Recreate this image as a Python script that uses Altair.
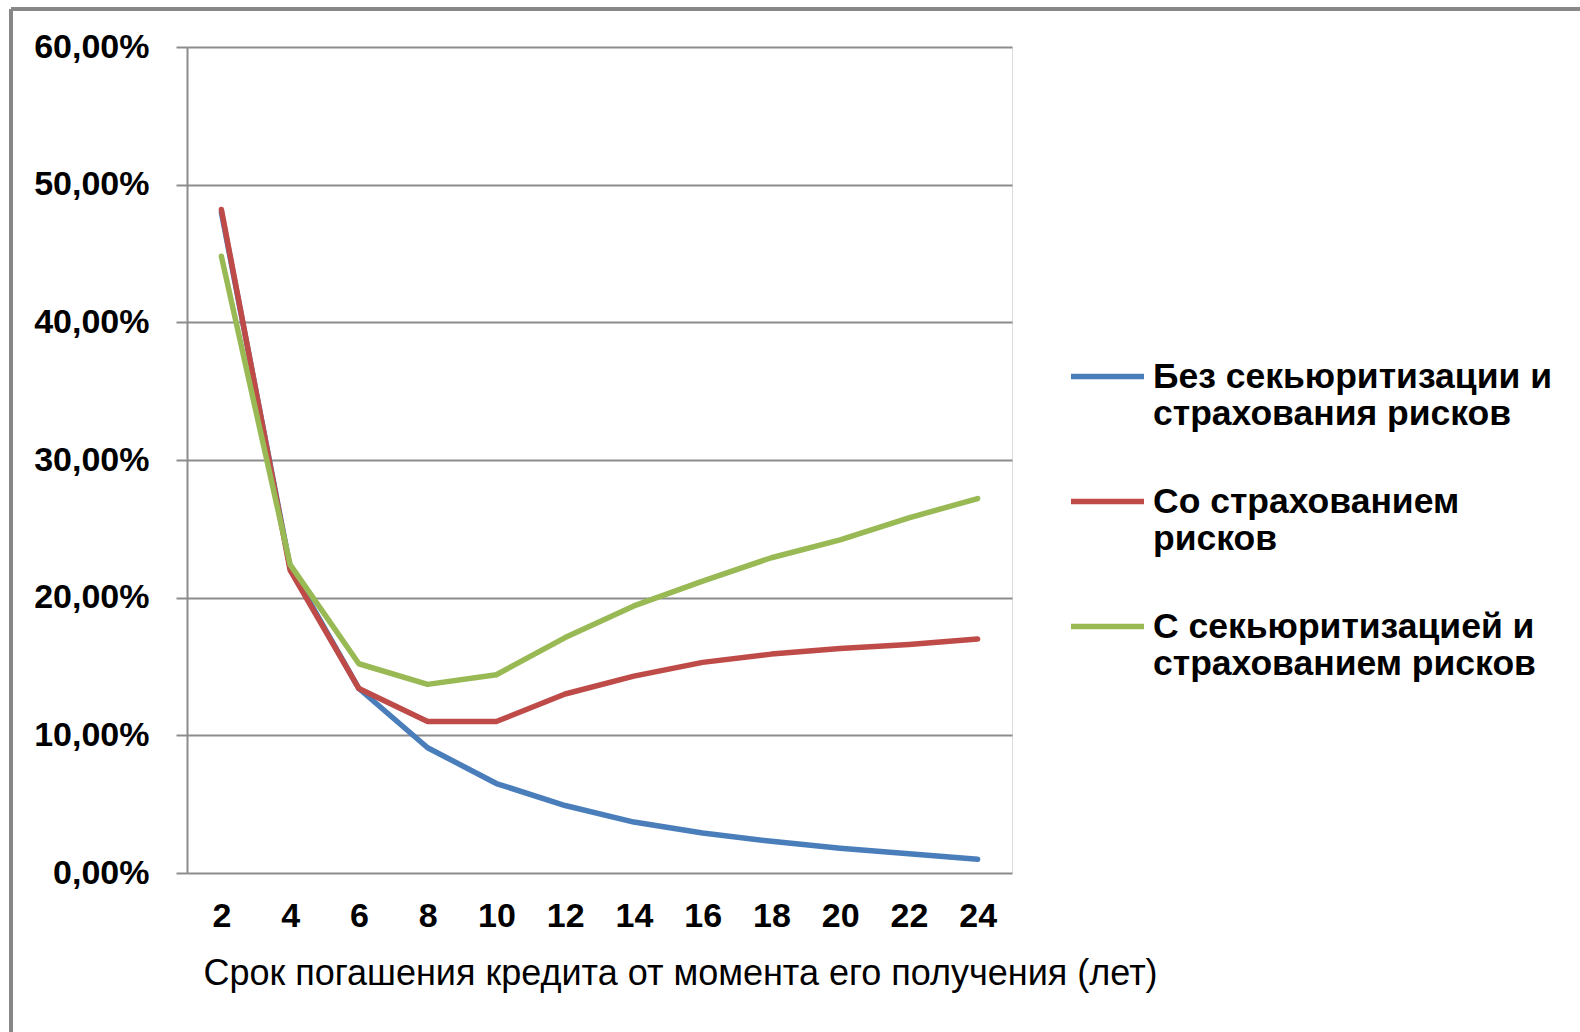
import altair as alt
import pandas as pd

years = [2, 4, 6, 8, 10, 12, 14, 16, 18, 20, 22, 24]
series_names = [
    "Без секьюритизации  и\nстрахования рисков",
    "Со  страхованием\nрисков",
    "С секьюритизацией и\nстрахованием рисков",
]
blue = [48.0, 22.2, 13.4, 9.1, 6.5, 4.9, 3.7, 2.9, 2.3, 1.8, 1.4, 1.0]
red = [48.2, 22.0, 13.4, 11.0, 11.0, 13.0, 14.3, 15.3, 15.9, 16.3, 16.6, 17.0]
green = [44.8, 22.4, 15.2, 13.7, 14.4, 17.1, 19.4, 21.2, 22.9, 24.2, 25.8, 27.2]
colors = ["#4A7EBB", "#BE4B48", "#98B954"]

rows = []
for name, vals in zip(series_names, [blue, red, green]):
    for yr, v in zip(years, vals):
        rows.append({"year": yr, "value": v / 100.0, "series": name})
df = pd.DataFrame(rows)

GRID = "#8C8C8C"
W, H = 825, 826
PL, PT = 187, 47

lines = alt.Chart(df).mark_line(strokeWidth=5.5, strokeCap="round", strokeJoin="round").encode(
    x=alt.X("year:Q",
            scale=alt.Scale(domain=[1, 25], nice=False, zero=False),
            axis=alt.Axis(values=years, grid=False, domain=False, ticks=False,
                          labelPadding=26, labelFontSize=34, labelFontWeight="bold",
                          labelFont="Liberation Sans",
                          labelColor="#000000",
                          title="Срок погашения кредита от момента его получения (лет)",
                          titleFont="Liberation Sans",
                          titleFontSize=36, titleFontWeight="normal", titleColor="#000000",
                          titleX=493, titleY=100, titleAlign="center", titleBaseline="middle")),
    y=alt.Y("value:Q",
            scale=alt.Scale(domain=[0, 0.6], nice=False),
            axis=alt.Axis(values=[0, 0.1, 0.2, 0.3, 0.4, 0.5, 0.6],
                          labelExpr="replace(format(datum.value, '.2%'), '.', ',')",
                          grid=True, gridColor=GRID, gridWidth=2,
                          domain=True, domainColor=GRID, domainWidth=2,
                          ticks=True, tickSize=11, tickColor=GRID, tickWidth=2,
                          labelPadding=27, labelFontSize=34, labelFontWeight="bold",
                          labelFont="Liberation Sans",
                          labelColor="#000000", title=None)),
    color=alt.Color("series:N",
                    scale=alt.Scale(domain=series_names, range=colors),
                    sort=series_names,
                    legend=alt.Legend(orient="none", legendX=881, legendY=290,
                                      title=None, symbolType="stroke",
                                      symbolStrokeWidth=5.5, symbolSize=5329,
                                      labelExpr="split(datum.label, '\\n')",
                                      labelFont="Liberation Sans", labelFontSize=35.5,
                                      labelFontWeight="bold", labelColor="#000000",
                                      labelLimit=600, labelOffset=6,
                                      labelBaseline="middle", rowPadding=29)),
    order=alt.Order("series_idx:Q"),
).transform_calculate(
    series_idx="indexof(" + str(series_names).replace("\\n", "\\\\n") + ", datum.series)"
)

frame_top = alt.Chart(df).mark_rule(color="#878787", strokeWidth=3).encode(
    x=alt.value(-176), x2=alt.value(1400), y=alt.value(-38))
frame_left = alt.Chart(df).mark_rule(color="#878787", strokeWidth=3).encode(
    x=alt.value(-176), y=alt.value(-38), y2=alt.value(1000))

chart = alt.layer(frame_top, frame_left, lines).properties(
    width=W, height=H,
    autosize=alt.AutoSizeParams(type="none"),
    padding={"left": PL, "top": PT, "right": 1580 - PL - W, "bottom": 1032 - PT - H},
).configure_view(stroke=None).configure(background="#FFFFFF")

chart.save("out.html", embed_options={"renderer": "svg", "actions": False})
